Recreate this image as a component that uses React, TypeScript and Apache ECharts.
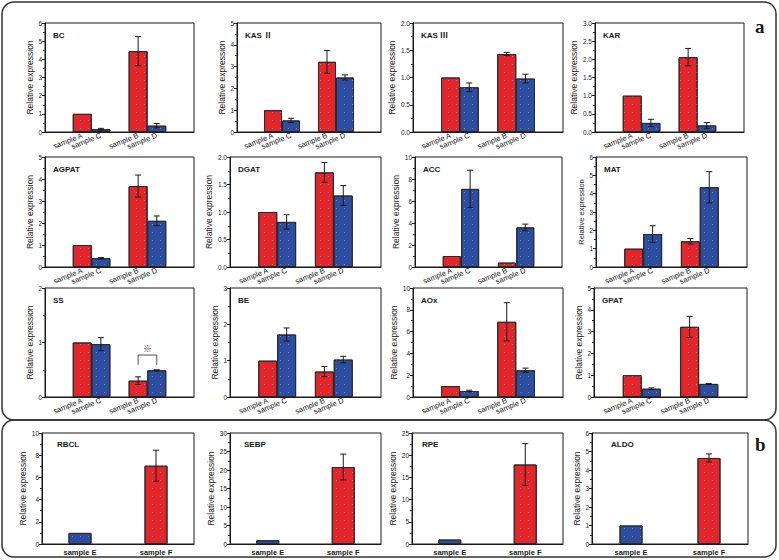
import React, { useEffect, useRef } from "react";
import * as echarts from "echarts";

// ---------- data ----------
const catsA = ["", " ", "sample A", "sample C", "  ", "sample B", "sample D", "   ", "    "];
const barIdxA = [2, 3, 5, 6]; // A, C, B, D
const colorKeyA = ["red", "blue", "red", "blue"];
const catsB = ["", "sample E", " ", "sample F", "  "];
const barIdxB = [1, 3]; // E, F
const colorKeyB = ["blue", "red"];

const genesA = ["BC", "KAS Ⅱ", "KAS Ⅲ", "KAR", "AGPAT", "DGAT", "ACC", "MAT", "SS", "BE", "AOx", "GPAT"];
// order: sample A, sample C, sample B, sample D
const valuesA: number[][] = [
  [1.0, 0.15, 4.45, 0.35],
  [1.0, 0.53, 3.22, 2.5],
  [1.0, 0.82, 1.43, 0.98],
  [1.0, 0.25, 2.06, 0.18],
  [1.0, 0.4, 3.68, 2.1],
  [1.0, 0.82, 1.72, 1.3],
  [1.0, 7.1, 0.4, 3.6],
  [1.0, 1.8, 1.4, 4.35],
  [1.0, 0.97, 0.3, 0.49],
  [1.0, 1.72, 0.7, 1.03],
  [1.0, 0.55, 6.9, 2.45],
  [1.0, 0.38, 3.22, 0.6],
];
const errorsA: number[][] = [
  [0, 0.05, 0.8, 0.12],
  [0, 0.1, 0.52, 0.12],
  [0, 0.08, 0.03, 0.08],
  [0, 0.1, 0.24, 0.08],
  [0, 0.03, 0.5, 0.22],
  [0, 0.13, 0.18, 0.18],
  [0, 1.7, 0, 0.3],
  [0, 0.45, 0.15, 0.85],
  [0, 0.12, 0.07, 0.01],
  [0, 0.18, 0.14, 0.09],
  [0, 0.07, 1.75, 0.2],
  [0, 0.04, 0.48, 0.02],
];
const yMaxA = [6, 5, 2, 3, 5, 2, 10, 6, 2, 3, 10, 5];
const yIntA = [1, 1, 0.5, 0.5, 1, 0.5, 2, 1, 1, 1, 2, 1];

const genesB = ["RBCL", "SEBP", "RPE", "ALDO"];
// order: sample E, sample F
const valuesB: number[][] = [
  [1.0, 7.05],
  [1.0, 20.8],
  [1.0, 17.9],
  [1.0, 4.65],
];
const errorsB: number[][] = [
  [0, 1.4],
  [0, 3.5],
  [0, 4.7],
  [0, 0.22],
];
const yMaxB = [10, 30, 25, 6];
const yIntB = [2, 5, 5, 1];

// significance bracket in SS panel (category indices and y-levels)
const ssBracket = { from: 5, to: 6, top: 0.77, leg: 0.59, mark: "※" };

// ---------- styling / layout ----------
const RED = "#E3262B";
const BLUE = "#2D4DA0";
const FONT = 'Arial, "Liberation Sans", Helvetica, sans-serif';
const TITLE_FONT = '"Liberation Sans", "Noto Sans CJK JP", "DejaVu Sans", sans-serif';
const colors: Record<string, string> = { red: RED, blue: BLUE };

const aLefts = [
  [45, 237, 413, 595],
  [45, 230, 415, 596],
  [45, 230, 413, 594],
];
const aRights = [
  [194, 381, 563, 744],
  [194, 381, 562, 747],
  [194, 381, 563, 747],
];
const aTops = [23, 157, 288];
const aBottoms = [132, 267, 397];
const bLefts = [42, 230, 412, 592];
const bRights = [194, 381, 563, 748];
const bTop = 433;
const bBottom = 544;
const bTitleDx = [15, 14, 10, 19];

const decal = {
  symbol: "rect",
  symbolSize: 1,
  color: "rgba(255,255,255,0.35)",
  dashArrayX: [1, 7],
  dashArrayY: [1, 7],
  rotation: 0,
};

function errorRender(params: any, api: any) {
  const x = api.value(0);
  const v = api.value(1);
  const e = api.value(2);
  const t = api.coord([x, v + e]);
  const b = api.coord([x, v - e]);
  const cap = 3;
  const style = { stroke: "#1a1a1a", lineWidth: 1 };
  return {
    type: "group",
    children: [
      { type: "line", shape: { x1: t[0], y1: t[1], x2: b[0], y2: b[1] }, style },
      { type: "line", shape: { x1: t[0] - cap, y1: t[1], x2: t[0] + cap, y2: t[1] }, style },
      { type: "line", shape: { x1: b[0] - cap, y1: b[1], x2: b[0] + cap, y2: b[1] }, style },
    ],
  };
}

function bracketRender(params: any, api: any) {
  const p1 = api.coord([ssBracket.from, ssBracket.leg]);
  const p2 = api.coord([ssBracket.from, ssBracket.top]);
  const p3 = api.coord([ssBracket.to, ssBracket.top]);
  const p4 = api.coord([ssBracket.to, ssBracket.leg]);
  return {
    type: "group",
    children: [
      {
        type: "polyline",
        shape: { points: [p1, p2, p3, p4] },
        style: { stroke: "#555", lineWidth: 1, fill: "none" },
      },
      {
        type: "text",
        x: (p2[0] + p3[0]) / 2,
        y: p2[1] - 2,
        style: {
          text: ssBracket.mark,
          fill: "#333",
          fontSize: 9,
          fontFamily: TITLE_FONT,
          align: "center",
          verticalAlign: "bottom",
        },
      },
    ],
  };
}

function buildOption() {
  const grid: any[] = [];
  const xAxis: any[] = [];
  const yAxis: any[] = [];
  const series: any[] = [];
  const graphic: any[] = [];

  const addPanel = (
    left: number,
    right: number,
    top: number,
    bottom: number,
    cats: string[],
    idx: number[],
    ckeys: string[],
    vals: number[],
    errs: number[],
    ymax: number,
    yint: number,
    gene: string,
    titleDx: number,
    isB: boolean,
    nameSize: number
  ) => {
    const gi = grid.length;
    const width = right - left;
    grid.push({
      left,
      top,
      width,
      height: bottom - top,
      show: true,
      borderColor: "#1a1a1a",
      borderWidth: 1,
      backgroundColor: "transparent",
      containLabel: false,
    });
    xAxis.push({
      type: "category",
      gridIndex: gi,
      data: cats,
      boundaryGap: false,
      axisLine: { lineStyle: { color: "#1a1a1a", width: 1 } },
      axisTick: { show: false },
      splitLine: { show: false },
      axisLabel: isB
        ? { interval: 0, fontSize: 7.5, fontWeight: "bold", color: "#222", fontFamily: FONT, margin: 4 }
        : { interval: 0, rotate: 22, fontSize: 7.5, color: "#222", fontFamily: FONT, margin: 3 },
    });
    const decimals = yint < 1 ? 1 : 0;
    const maxChars = ymax.toFixed(decimals).length;
    yAxis.push({
      type: "value",
      gridIndex: gi,
      min: 0,
      max: ymax,
      interval: yint,
      name: "Relative expression",
      nameLocation: "middle",
      nameGap: 8 + maxChars * 3,
      nameTextStyle: { fontSize: nameSize, color: "#222", fontFamily: FONT },
      axisLine: { show: true, lineStyle: { color: "#1a1a1a", width: 1 } },
      axisTick: { show: true, length: 3, lineStyle: { color: "#1a1a1a" } },
      minorTick: { show: true, splitNumber: 2, length: 2, lineStyle: { color: "#1a1a1a" } },
      splitLine: { show: false },
      axisLabel: {
        fontSize: 6.5,
        color: "#222",
        fontFamily: FONT,
        margin: 3,
        formatter: (v: number) => v.toFixed(decimals),
      },
    });
    const barData: any[] = cats.map(() => "-");
    idx.forEach((c, j) => {
      barData[c] = {
        value: vals[j],
        itemStyle: { color: colors[ckeys[j]], borderColor: "#2a2a2a", borderWidth: 1, decal },
      };
    });
    const bw = isB ? 23 : Math.round(width / (cats.length - 1));
    series.push({
      type: "bar",
      xAxisIndex: gi,
      yAxisIndex: gi,
      data: barData,
      barWidth: bw,
      silent: true,
      z: 2,
    });
    const errData = idx
      .map((c, j) => [c, vals[j], errs[j]])
      .filter((d) => d[2] > 0);
    series.push({
      type: "custom",
      xAxisIndex: gi,
      yAxisIndex: gi,
      data: errData,
      renderItem: errorRender,
      clip: false,
      silent: true,
      z: 5,
    });
    if (gene === "SS") {
      series.push({
        type: "custom",
        xAxisIndex: gi,
        yAxisIndex: gi,
        data: [[ssBracket.from, ssBracket.top]],
        renderItem: bracketRender,
        clip: false,
        silent: true,
        z: 6,
      });
    }
    graphic.push({
      type: "text",
      left: left + titleDx,
      top: top + (isB ? 7 : 8),
      style: { text: gene, fill: "#1a1a1a", fontSize: 8, fontWeight: "bold", fontFamily: TITLE_FONT },
      z: 10,
    });
  };

  for (let i = 0; i < genesA.length; i++) {
    const r = Math.floor(i / 4);
    const c = i % 4;
    addPanel(
      aLefts[r][c],
      aRights[r][c],
      aTops[r],
      aBottoms[r],
      catsA,
      barIdxA,
      colorKeyA,
      valuesA[i],
      errorsA[i],
      yMaxA[i],
      yIntA[i],
      genesA[i],
      8,
      false,
      genesA[i] === "MAT" ? 7.5 : 8.5
    );
  }
  for (let i = 0; i < genesB.length; i++) {
    addPanel(
      bLefts[i],
      bRights[i],
      bTop,
      bBottom,
      catsB,
      barIdxB,
      colorKeyB,
      valuesB[i],
      errorsB[i],
      yMaxB[i],
      yIntB[i],
      genesB[i],
      bTitleDx[i],
      true,
      8.5
    );
  }

  // panel frames and letters
  graphic.push({
    type: "rect",
    shape: { x: 2, y: 2, width: 774, height: 418, r: 12 },
    style: { fill: "none", stroke: "#333", lineWidth: 1.5 },
    z: 0,
  });
  graphic.push({
    type: "rect",
    shape: { x: 2, y: 420, width: 774, height: 137, r: 12 },
    style: { fill: "none", stroke: "#333", lineWidth: 1.5 },
    z: 0,
  });
  graphic.push({
    type: "text",
    left: 755,
    top: 17,
    style: { text: "a", fill: "#1a1a1a", fontSize: 19, fontWeight: "bold", fontFamily: '"Liberation Serif", "DejaVu Serif", serif' },
    z: 10,
  });
  graphic.push({
    type: "text",
    left: 755,
    top: 435,
    style: { text: "b", fill: "#1a1a1a", fontSize: 19, fontWeight: "bold", fontFamily: '"Liberation Serif", "DejaVu Serif", serif' },
    z: 10,
  });

  return {
    animation: false,
    backgroundColor: "#ffffff",
    grid,
    xAxis,
    yAxis,
    series,
    graphic,
  };
}

export default function App() {
  const ref = useRef<HTMLDivElement>(null);
  useEffect(() => {
    if (!ref.current) return;
    const chart = echarts.init(ref.current, undefined, { renderer: "svg" });
    chart.setOption(buildOption() as any);
    return () => chart.dispose();
  }, []);
  return (
    <div
      ref={ref}
      style={{ position: "fixed", left: 0, top: 0, width: 779, height: 560, background: "#fff" }}
    />
  );
}
